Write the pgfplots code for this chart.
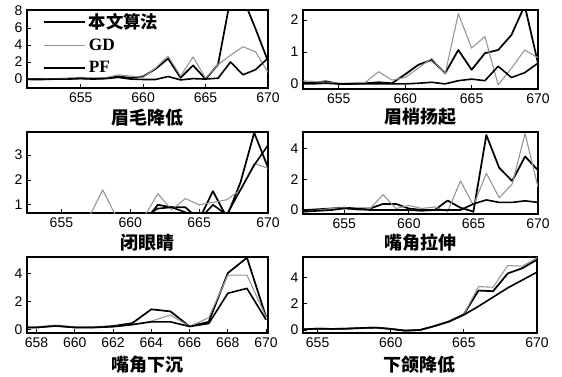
\documentclass[border=0pt]{standalone}
\usepackage{fontspec}
\setmainfont{Liberation Sans}
\newfontfamily\cjk{Noto Sans CJK SC}
\newfontfamily\tms{Liberation Serif}
\usepackage{pgfplots}
\pgfplotsset{compat=1.18}
\definecolor{gdgray}{gray}{0.58}
\pgfplotsset{
  panel/.style={scale only axis, axis line style={black, line width=0.9pt},
    tick pos=left, tick align=inside, major tick length=3pt,
    every tick/.style={black, line width=0.6pt},
    ticklabel style={font=\fontsize{10.5}{12}\selectfont},
    /pgf/number format/assume math mode=true, /pgf/number format/1000 sep={},
    xlabel style={font=\cjk\bfseries\fontsize{13.5}{15}\selectfont, at={(axis description cs:0.5,0)}, anchor=center},
    anchor=south west},
  s1/.style={black, line width=1.3pt, line join=round},
  s2/.style={gdgray, line width=0.8pt, line join=round},
  s3/.style={black, line width=1.2pt, line join=round},
}
\begin{document}
\begin{tikzpicture}
\path[use as bounding box] (0,0) rectangle (421.5pt,-282pt);
% Panel 1
\begin{axis}[panel, at={(20.25pt,-66pt)}, width=180.75pt, height=58.5pt,
  xmin=650.7, xmax=670, ymin=-1.05, ymax=8.1, xtick={655,660,665,670}, ytick={0,2,4,6,8},
  xlabel={眉毛降低}, xlabel style={yshift=-22.5pt},
  legend style={draw=none, fill=none, at={(0.06,1.01)}, anchor=north west, row sep=2.5pt, inner sep=1pt},
  legend cell align=left,
  legend image code/.code={\draw[#1] (0pt,0pt) -- (31pt,0pt);}]
\addplot[s1] coordinates {(650.5,0)(651,0)(652,0.02)(653,0)(654,0.05)(655,0.1)(656,0.05)(657,0.1)(658,0.3)(659,0.15)(660,0.3)(661,1.2)(662,2.4)(663,0.15)(664,1.6)(665,0)(666,1.7)(667,9.5)(668,9.5)(669,5.9)(670,2.1)};
\addlegendentry{\cjk\bfseries\fontsize{13}{14}\selectfont 本文算法}
\addplot[s2] coordinates {(650.5,0)(651,0)(652,0)(653,0.02)(654,0.05)(655,0.08)(656,0.1)(657,0.15)(658,0.5)(659,0.35)(660,0.2)(661,1.3)(662,2.7)(663,0.35)(664,2.6)(665,0.1)(666,1.7)(667,2.8)(668,3.8)(669,3.2)(670,0.8)};
\addlegendentry{\tms\bfseries\fontsize{13}{14}\selectfont GD}
\addplot[s3] coordinates {(650.5,0)(651,-0.05)(652,-0.05)(653,0)(654,0)(655,0.05)(656,0)(657,0.05)(658,0.2)(659,0)(660,-0.05)(661,-0.05)(662,0.3)(663,-0.1)(664,0.05)(665,0)(666,0.1)(667,2.0)(668,0.5)(669,1.1)(670,2.45)};
\addlegendentry{\tms\bfseries\fontsize{13}{14}\selectfont PF}
\end{axis}
% Panel 2
\begin{axis}[panel, at={(227.25pt,-66.75pt)}, width=176.25pt, height=59.25pt,
  xmin=652.3, xmax=670, ymin=-0.16, ymax=2.31, xtick={655,660,665,670}, ytick={0,1,2},
  xlabel={眉梢扬起}, xlabel style={yshift=-21pt}]
\addplot[s1] coordinates {(652,0.05)(653,0.03)(654,0.08)(655,0)(656,0)(657,0.02)(658,0.05)(659,0.02)(660,0.3)(661,0.6)(662,0.75)(663,0.33)(664,1.06)(665,0.44)(666,0.96)(667,1.06)(668,1.53)(669,2.45)(670,0.65)};
\addplot[s2] coordinates {(652,0.1)(653,0.08)(654,0.05)(655,0.02)(656,0.03)(657,0.05)(658,0.38)(659,0.12)(660,0.2)(661,0.5)(662,0.8)(663,0.3)(664,2.2)(665,1.12)(666,1.48)(667,-0.03)(668,0.49)(669,1.06)(670,0.82)};
\addplot[s3] coordinates {(652,0)(653,0)(654,0.02)(655,0)(656,0)(657,0)(658,0)(659,0)(660,0)(661,0.02)(662,0.05)(663,0)(664,0.1)(665,0.15)(666,0.1)(667,0.55)(668,0.2)(669,0.35)(670,0.65)};
\end{axis}
% Panel 3
\begin{axis}[panel, at={(20.25pt,-159.75pt)}, width=180.75pt, height=60.75pt,
  xmin=652.5, xmax=670, ymin=0.67, ymax=3.93, xtick={655,660,665,670}, ytick={1,2,3},
  xlabel={闭眼睛}, xlabel style={yshift=-22.5pt}]
\addplot[s1] coordinates {(652,0.3)(660,0.3)(661,0.3)(662,1.0)(663,0.9)(664,0.9)(665,0.4)(666,1.55)(667,0.5)(668,1.9)(669,3.9)(670,2.5)};
\addplot[s2] coordinates {(652,0.5)(657,0.5)(658,1.6)(659,0.5)(661,0.5)(662,1.45)(663,0.8)(664,1.25)(665,1.0)(666,1.1)(667,1.2)(668,1.6)(669,2.67)(670,2.47)};
\addplot[s3] coordinates {(652,0.3)(660,0.3)(661,0.5)(662,0.85)(663,0.9)(664,0.7)(665,0.4)(666,1.0)(667,0.6)(668,1.6)(669,2.6)(670,3.4)};
\end{axis}
% Panel 4
\begin{axis}[panel, at={(227.25pt,-160.5pt)}, width=176.25pt, height=61.5pt,
  xmin=651.8, xmax=670, ymin=-0.26, ymax=5.1, xtick={655,660,665,670}, ytick={0,2,4},
  xlabel={嘴角拉伸}, xlabel style={yshift=-21.75pt}]
\addplot[s1] coordinates {(651,0)(652,0)(653,0.05)(654,0.1)(655,0.15)(656,0.1)(657,0.1)(658,0.4)(659,0.4)(660,0.1)(661,0)(662,0)(663,0.62)(664,0.15)(665,-0.1)(666,4.9)(667,2.75)(668,1.9)(669,3.5)(670,2.6)};
\addplot[s2] coordinates {(651,-0.1)(652,-0.1)(653,0)(654,0.1)(655,0.15)(656,0)(657,0.1)(658,1.0)(659,0.1)(660,0.3)(661,0.1)(662,0.2)(663,-0.1)(664,1.9)(665,0.3)(666,2.4)(667,0.8)(668,1.7)(669,5.0)(670,1.5)};
\addplot[s3] coordinates {(651,-0.1)(652,-0.1)(653,-0.05)(654,0)(655,0.1)(656,0.05)(657,0)(658,0)(659,0)(660,0)(661,-0.05)(662,0)(663,0)(664,0)(665,0.4)(666,0.66)(667,0.5)(668,0.5)(669,0.6)(670,0.5)};
\end{axis}
% Panel 5
\begin{axis}[panel, at={(20.25pt,-249.75pt)}, width=180.75pt, height=57pt,
  xmin=657.5, xmax=670.1, ymin=-0.25, ymax=5.2, xtick={658,660,...,670}, ytick={0,2,4},
  xlabel={嘴角下沉}, xlabel style={yshift=-24pt}]
\addplot[s1] coordinates {(657.5,0.15)(658,0.15)(659,0.28)(660,0.15)(661,0.15)(662,0.25)(663,0.45)(664,1.45)(665,1.3)(666,0.22)(667,0.55)(668,4.05)(669,5.15)(670,0.9)};
\addplot[s2] coordinates {(657.5,0.15)(658,0.15)(659,0.28)(660,0.15)(661,0.15)(662,0.22)(663,0.35)(664,0.6)(665,1.04)(666,0.22)(667,0.85)(668,3.9)(669,3.9)(670,0.9)};
\addplot[s3] coordinates {(657.5,0.15)(658,0.15)(659,0.25)(660,0.15)(661,0.15)(662,0.2)(663,0.35)(664,0.55)(665,0.55)(666,0.22)(667,0.43)(668,2.6)(669,2.95)(670,0.7)};
\end{axis}
% Panel 6
\begin{axis}[panel, at={(227.25pt,-249.75pt)}, width=175.5pt, height=57pt,
  xmin=654, xmax=670, ymin=-0.23, ymax=5.55, xtick={655,660,665,670}, ytick={0,2,4},
  xlabel={下颌降低}, xlabel style={yshift=-24pt}]
\addplot[s1] coordinates {(654,0.05)(655,0.1)(656,0.08)(657,0.1)(658,0.15)(659,0.18)(660,0.08)(661,-0.05)(662,0)(663,0.3)(664,0.65)(665,1.2)(666,3.0)(667,2.95)(668,4.3)(669,4.7)(670,5.35)};
\addplot[s2] coordinates {(654,0.05)(655,0.1)(656,0.08)(657,0.1)(658,0.15)(659,0.18)(660,0.08)(661,-0.05)(662,0)(663,0.3)(664,0.65)(665,1.2)(666,3.3)(667,3.25)(668,4.9)(669,4.85)(670,5.5)};
\addplot[s3] coordinates {(654,0.05)(655,0.1)(656,0.08)(657,0.1)(658,0.15)(659,0.18)(660,0.08)(661,-0.05)(662,0)(663,0.3)(664,0.65)(665,1.15)(666,1.8)(667,2.5)(668,3.2)(669,3.8)(670,4.4)};
\end{axis}
\end{tikzpicture}
\end{document}
